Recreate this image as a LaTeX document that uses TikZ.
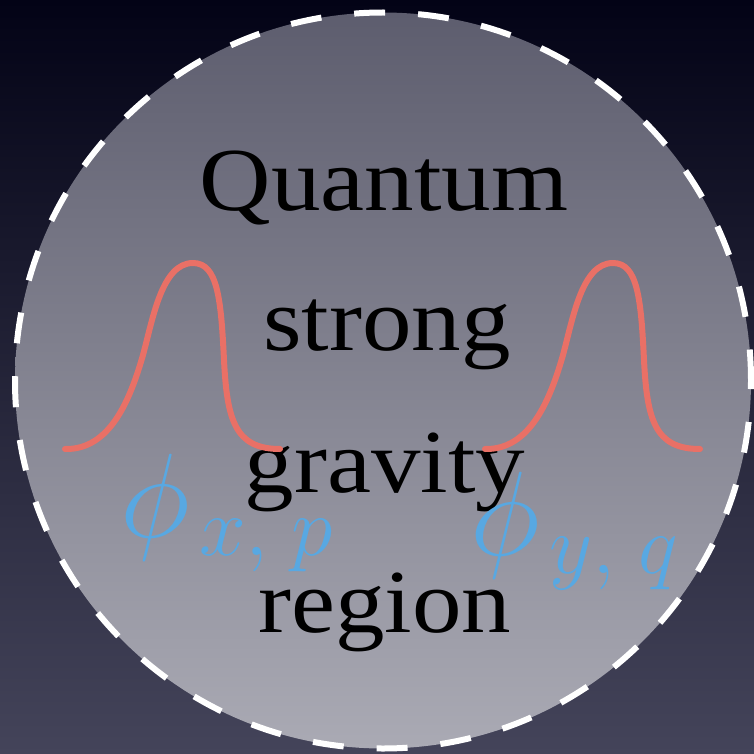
\RequirePackage{fix-cm}
\documentclass[tikz,border=0pt]{standalone}
\usepackage{fontspec}
\setmainfont{Liberation Serif}[FakeStretch=1.1]
\definecolor{bgtop}{RGB}{3,3,22}
\definecolor{bgmid}{RGB}{28,28,52}
\definecolor{bgbot}{RGB}{68,68,90}
\definecolor{circtop}{RGB}{93,93,110}
\definecolor{circbot}{RGB}{170,170,180}
\definecolor{wavered}{RGB}{233,112,102}
\definecolor{labblue}{RGB}{88,168,226}
\begin{document}
\begin{tikzpicture}[x=1pt,y=-1pt,
  word/.style={font=\fontsize{90}{90}\selectfont, text=black, anchor=base, inner sep=0pt},
  wave/.style={draw=wavered, line width=6pt, line cap=round, line join=round},
  lab/.style={text=labblue, anchor=base west, inner sep=0pt, font=\fontsize{120}{120}\selectfont},
  regionbox/.style={circle, inner sep=0pt, outer sep=0pt, minimum size=736pt,
    top color=circtop, bottom color=circbot, draw=white, line width=6pt,
    dash pattern=on 31pt off 33pt}]
\useasboundingbox (0,0) rectangle (754,754);
\shade[top color=bgtop, middle color=bgmid, bottom color=bgbot] (0,0) rectangle (754,754);
\node[regionbox] (region) at (383,380.5) {};
\node[word] (w1) at (384,210) {Quantum};
\node[word] (w2) at (387,350) {strong};
\node[word] (w3) at (385,492) {gravity};
\node[word] (w4) at (385,632) {region};
\foreach \dx in {0,420}{
  \draw[wave, xshift=\dx pt] (65,449) .. controls (110,450) and (130,400) .. (143,355)
    .. controls (153,318) and (162,263) .. (193,263)
    .. controls (218,263) and (221,300) .. (224,360)
    .. controls (227,420) and (235,449) .. (280,449);
}
\node[lab] (phix) at (120,537) {$\phi_{\mkern2mu x,\mkern5mu p}$};
\node[lab] (phiy) at (470,555) {$\phi_{\mkern2mu y,\mkern5mu q}$};
\end{tikzpicture}
\end{document}
